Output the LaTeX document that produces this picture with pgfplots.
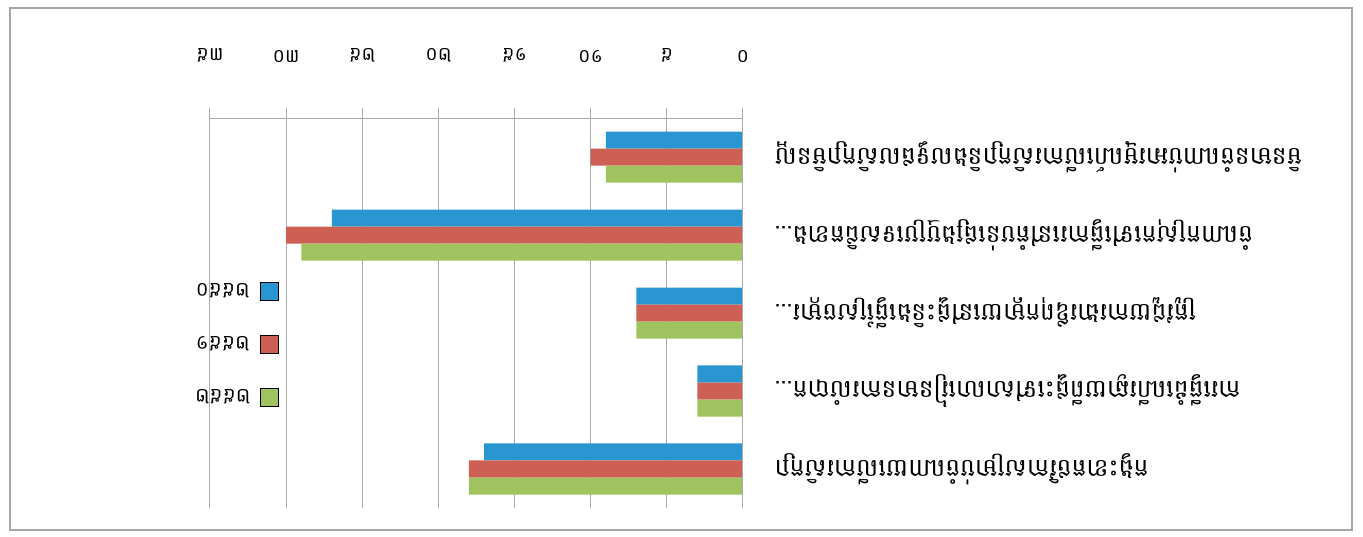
\documentclass[border=0pt]{standalone}
\usepackage{fontspec}
\usepackage{graphicx}
\usepackage{pgfplots}
\pgfplotsset{compat=1.18}
\setmainfont{Liberation Sans}
\newfontfamily\khmerfont[Script=Khmer]{Battambang}
% the whole chart is shown upside down: every text is turned by 180 degrees
\newcommand{\R}[1]{\rotatebox[origin=c]{180}{\khmerfont #1}}
\definecolor{sBlue}{RGB}{41,150,210}
\definecolor{sRed}{RGB}{205,95,85}
\definecolor{sGreen}{RGB}{160,195,95}
\definecolor{gridc}{RGB}{170,170,170}

\begin{document}
\begin{tikzpicture}
\useasboundingbox (-476.5bp,-224bp) rectangle (886.5bp,313bp);
\draw[gray!70, line width=2bp] (-466.5bp,-217bp) rectangle (875.5bp,305bp);
\begin{axis}[
    at={(0,0)}, anchor=center,
    scale only axis, width=533bp, height=390bp,
    xbar, bar width=17bp,
    xmin=0, xmax=35, x dir=reverse,
    ymin=0.5, ymax=5.5,
    axis line style={draw=none},
    xtick={0,5,...,35},
    xticklabels={\R{០},\R{៥},\R{១០},\R{១៥},\R{២០},\R{២៥},\R{៣០},\R{៣៥}},
    xtick pos=upper, xticklabel pos=upper,
    tick align=outside, major tick length=10bp,
    xtick style={draw=gridc, line width=1bp},
    xmajorgrids, major grid style={draw=gridc, line width=1bp},
    xticklabel style={font=\fontsize{19}{21}\selectfont, yshift=42bp},
    ytick={1,...,5},
    yticklabels={
        \R{កង្វះខាតថវិកាសម្រាប់ចំណាយលើការសិក្សា},
        \R{ការធ្វើដំណើរឆ្ងាយពីផ្ទះទៅសាលារៀនមានការលំបាក...},
        \R{ត្រូវជួយការងារឪពុកម្តាយនៅផ្ទះនិងធ្វើស្រែចម្ការ...},
        \R{ចំណាកស្រុកទៅធ្វើការនៅតំបន់ផ្សេងឬប្រទេសជិតខាង...},
        \R{មិនមានចំណាប់អារម្មណ៍លើការសិក្សានិងលទ្ធផលសិក្សាមិនល្អ}},
    ytick style={draw=none},
    yticklabel pos=upper,
    yticklabel style={anchor=west, xshift=18bp, font=\fontsize{25}{27}\selectfont},
    legend plot pos=right,
    legend style={at={(axis cs:33.3,2.6)}, anchor=center, draw=none, fill=none,
        row sep=33bp, column sep=8bp, font=\fontsize{20}{22}\selectfont},
    legend image code/.code={\draw[#1] (0bp,-9bp) rectangle (18bp,9bp);},
]
\addplot[fill=sBlue, draw=none, bar shift=17bp] coordinates {
    (17,1) (3,2) (7,3) (27,4) (9,5)};
\addlegendentry{\R{២៥៥០}}
\addplot[fill=sRed, draw=none, bar shift=0bp] coordinates {
    (18,1) (3,2) (7,3) (30,4) (10,5)};
\addlegendentry{\R{២៥៥១}}
\addplot[fill=sGreen, draw=none, bar shift=-17bp] coordinates {
    (18,1) (3,2) (7,3) (29,4) (9,5)};
\addlegendentry{\R{២៥៥២}}
% axis lines and the ticks between the categories
\draw[gridc, line width=1bp] (axis cs:35,5.5) -- (axis cs:0,5.5) -- (axis cs:0,0.5);
\pgfplotsinvokeforeach{0.5,1.5,2.5,3.5,4.5,5.5}{
    \draw[gridc, line width=1bp] (axis cs:0,#1) -- ++(10bp,0);}
\end{axis}
\end{tikzpicture}
\end{document}
